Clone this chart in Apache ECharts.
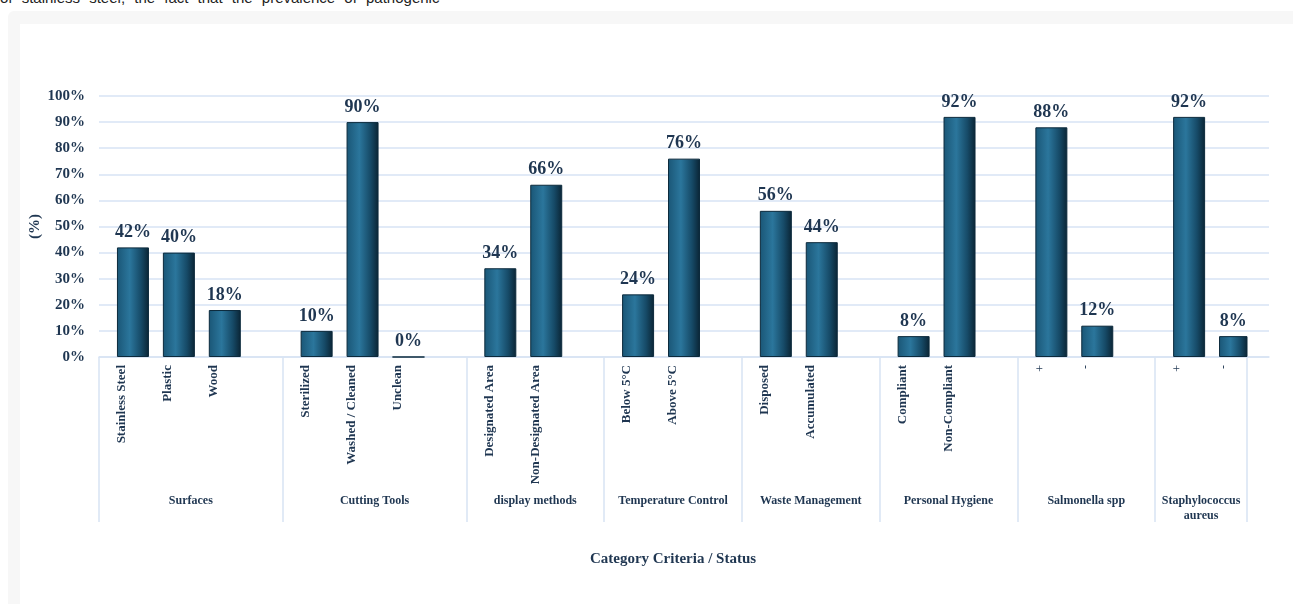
<!DOCTYPE html>
<html>
<head>
<meta charset="utf-8">
<title>Category Criteria / Status</title>
<script src="https://cdn.jsdelivr.net/npm/echarts@6.0.0/dist/echarts.min.js"></script>
<style>
  html, body { margin: 0; padding: 0; background: #fff; overflow: hidden; }
  body { width: 1293px; height: 604px; position: relative; }
  .snippet {
    position: absolute; left: 0; top: -10px; white-space: nowrap;
    font: 15px "Liberation Sans", Arial, sans-serif; color: #222;
    word-spacing: 5px; line-height: 16px;
  }
  .frame {
    position: absolute; left: 8px; top: 11px; right: -20px; bottom: -20px;
    background: #f7f7f7; border-radius: 6px;
  }
  .inner {
    position: absolute; left: 20px; top: 24px; right: 0; bottom: 0; background: #fff;
  }
  #chart { position: absolute; left: 0; top: 0; width: 1293px; height: 604px; }
</style>
</head>
<body>
<div class="snippet">of stainless steel, the fact that the prevalence of pathogenic</div>
<div class="frame"></div>
<div class="inner"></div>
<div id="chart"></div>
<script>
// sub-category slots along the axis ('' = gap between groups)
const subCategories = [
  "Stainless Steel", "Plastic", "Wood", "",
  "Sterilized", "Washed / Cleaned", "Unclean", "",
  "Designated Area", "Non-Designated Area", "",
  "Below 5°C", "Above 5°C", "",
  "Disposed", "Accumulated", "",
  "Compliant", "Non-Compliant", "",
  "+", "-", "",
  "+", "-"
];

// percentages, null for the gap slots
const percentValues = [
  42, 40, 18, null,
  10, 90, 0, null,
  34, 66, null,
  24, 76, null,
  56, 44, null,
  8, 92, null,
  88, 12, null,
  92, 8
];

const groupNames = [
  "Surfaces", "Cutting Tools", "display methods", "Temperature Control",
  "Waste Management", "Personal Hygiene", "Salmonella spp", "Staphylococcus\naureus"
];
// number of slots each group covers
const groupSpans = [4, 4, 3, 3, 3, 3, 3, 2];

const yTickLabels = ["0%", "10%", "20%", "30%", "40%", "50%", "60%", "70%", "80%", "90%", "100%"];

const textColor = "#1f3651";
const gridColor = "#d7e3f4";
const serif = "'Liberation Serif', 'Times New Roman', serif";

// group boundaries and centres in slot units
const groupEdges = [0];
groupSpans.forEach((s, i) => groupEdges.push(groupEdges[i] + s));
const groupCenters = groupSpans.map((s, i) => groupEdges[i] + s / 2);

const chart = echarts.init(document.getElementById("chart"), null, { renderer: "canvas" });

const option = {
  backgroundColor: "transparent",
  animation: false,
  grid: [
    // wide grid: gridlines and baseline
    { left: 99, right: 24, top: 96, bottom: 247, outerBoundsMode: "none", containLabel: false },
    // bars and category slots
    { left: 99, right: 46, top: 96, bottom: 247, outerBoundsMode: "none", containLabel: false }
  ],
  xAxis: [
    {
      gridIndex: 0, type: "value", min: 0, max: 1, position: "bottom",
      axisLine: { show: true, lineStyle: { color: gridColor, width: 1.5 } },
      axisTick: { show: false }, axisLabel: { show: false }, splitLine: { show: false }
    },
    {
      gridIndex: 1, type: "category", position: "bottom",
      data: subCategories.map((c) =>
        c === "+" || c === "-" ? { value: c, textStyle: { fontWeight: "normal", fontSize: 12 } } : c
      ),
      axisLine: { show: false },
      axisTick: { show: false },
      axisLabel: {
        interval: 0, rotate: 90, margin: 8,
        color: textColor, fontFamily: serif, fontWeight: "bold", fontSize: 13
      },
      name: "Category Criteria / Status",
      nameLocation: "middle",
      nameGap: 195,
      nameMoveOverlap: false,
      nameTextStyle: { color: textColor, fontFamily: serif, fontWeight: "bold", fontSize: 15 }
    },
    {
      gridIndex: 1, type: "value", min: 0, max: subCategories.length, position: "bottom",
      axisLine: { show: false },
      splitLine: { show: false },
      axisTick: {
        show: true, length: 165, customValues: groupEdges,
        lineStyle: { color: gridColor, width: 1.5 }
      },
      axisLabel: {
        show: true, margin: 136, customValues: groupCenters,
        formatter: (v) => groupNames[groupCenters.indexOf(v)] || "",
        color: textColor, fontFamily: serif, fontWeight: "bold", fontSize: 12,
        lineHeight: 15, align: "center"
      }
    }
  ],
  yAxis: [
    {
      gridIndex: 0, type: "value", min: 0, max: 100, interval: 10,
      axisLine: { show: false }, axisTick: { show: false },
      axisLabel: {
        margin: 14, color: textColor, fontFamily: serif, fontWeight: "bold", fontSize: 15,
        formatter: (v) => yTickLabels[Math.round(v / 10)]
      },
      splitLine: { show: true, lineStyle: { color: gridColor, width: 1.5 } },
      name: "(%)",
      nameLocation: "middle",
      nameGap: 56,
      nameRotate: 90,
      nameMoveOverlap: false,
      nameTextStyle: { color: textColor, fontFamily: serif, fontWeight: "bold", fontSize: 15 }
    },
    {
      gridIndex: 1, type: "value", min: 0, max: 100, show: false
    }
  ],
  series: [
    {
      // empty spacer so the bars sit right of the slot centre, as in the source
      name: "spacer", type: "bar", xAxisIndex: 1, yAxisIndex: 1,
      data: [], barWidth: 22, barGap: "0%", silent: true
    },
    {
      name: "Percent", type: "bar", xAxisIndex: 1, yAxisIndex: 1,
      data: percentValues, barWidth: 32, barGap: "0%",
      itemStyle: {
        borderColor: "#0c2a3c", borderWidth: 1,
        color: {
          type: "linear", x: 0, y: 0, x2: 1, y2: 0,
          colorStops: [
            { offset: 0, color: "#1a5676" },
            { offset: 0.4, color: "#2b769c" },
            { offset: 0.75, color: "#164a67" },
            { offset: 1, color: "#0a2434" }
          ]
        }
      },
      label: {
        show: true, position: "top", distance: 6,
        formatter: (p) => p.value + "%",
        color: textColor, fontFamily: serif, fontWeight: "bold", fontSize: 18
      }
    }
  ]
};

chart.setOption(option);
</script>
</body>
</html>
